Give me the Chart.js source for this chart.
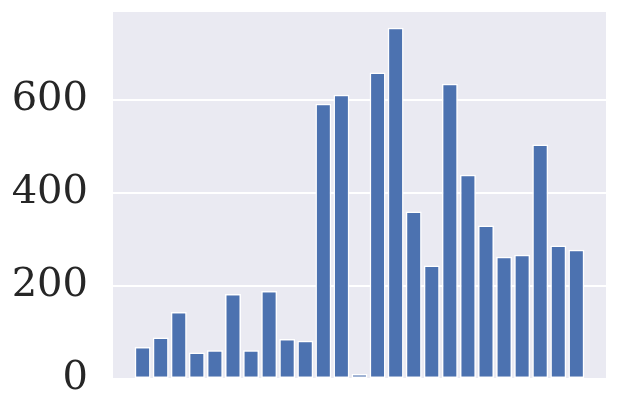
<!DOCTYPE html>
<html>
<head>
<meta charset="utf-8">
<script src="https://cdn.jsdelivr.net/npm/chart.js@4"></script>
<style>
html,body{margin:0;padding:0;background:#fff;}
#wrap{width:617px;height:414px;position:relative;}
</style>
</head>
<body>
<div id="wrap"><canvas id="c" width="617" height="414"></canvas></div>
<script>
const categories = [0,1,2,3,4,5,6,7,8,9,10,11,12,13,14,15,16,17,18,19,20,21,22,23,24];
const values = [69,89,144,57,62,183,62,189,86,82,592,611,11,659,755,360,244,635,439,330,263,267,504,287,278];
const yTicks = [0,200,400,600];

const bgPlugin = {
  id:'bg',
  beforeDraw(chart){
    const {ctx, chartArea:a} = chart;
    ctx.save();
    ctx.fillStyle = '#EAEAF2';
    ctx.fillRect(a.left, a.top, a.right-a.left, a.bottom-a.top);
    ctx.restore();
  }
};

new Chart(document.getElementById('c'), {
  type:'bar',
  data:{
    datasets:[{
      data: categories.map((c,i)=>({x:c, y:values[i]})),
      backgroundColor:'#4C72B0',
      borderColor:'#ffffff',
      borderWidth:1.5,
      borderSkipped:false,
      categoryPercentage:1,
      barPercentage:0.88
    }]
  },
  options:{
    responsive:false,
    animation:false,
    devicePixelRatio:1,
    layout:{padding:{left:12,right:11,top:12,bottom:35}},
    plugins:{legend:{display:false},tooltip:{enabled:false}},
    scales:{
      x:{type:'linear', min:-1.64, max:25.64, offset:false, display:false, grid:{display:false, offset:false}},
      y:{
        min:0, max:789,
        afterBuildTicks(s){ s.ticks = yTicks.map(v=>({value:v})); },
        afterFit(s){ s.width = 101; s.paddingTop = 0; s.paddingBottom = 0; s.paddingLeft = 0; s.paddingRight = 0; },
        border:{display:false},
        grid:{color:'#ffffff', lineWidth:2, drawTicks:false},
        ticks:{color:'#262626', padding:25, font:{family:'DejaVu Serif', size:40}}
      }
    }
  },
  plugins:[bgPlugin]
});
</script>
</body>
</html>
